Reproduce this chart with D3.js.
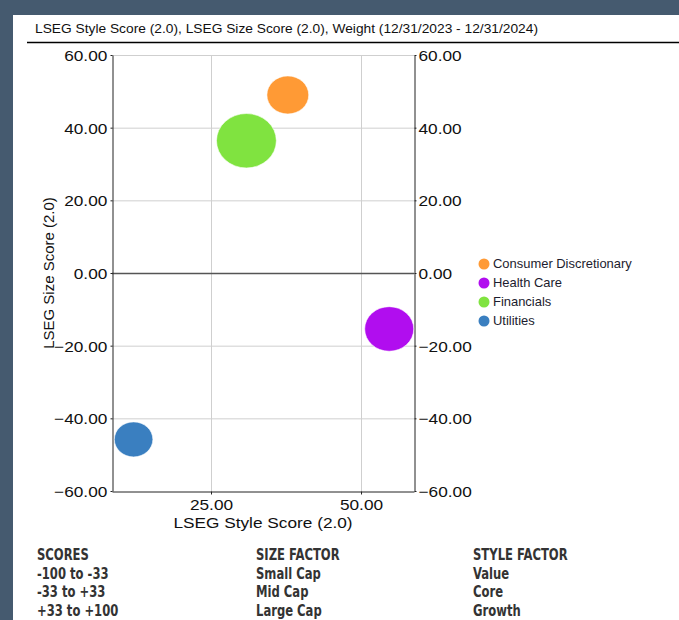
<!DOCTYPE html>
<head lang="en">
<meta charset="utf-8">
<title>LSEG Style Score vs Size Score</title>
<style>
body { margin:0; background:#455a6f; }
* { font-family:Arial,"Liberation Sans",sans-serif; }
</style>
<script src="https://cdnjs.cloudflare.com/ajax/libs/d3/7.8.5/d3.min.js"></script>
</head>
<body>
<script>
// Chart data
var sectors = ["Consumer Discretionary", "Health Care", "Financials", "Utilities"];
var styleScores = [37.8, 54.7, 30.9, 12.1];
var sizeScores = [49.0, -15.4, 36.4, -45.8];
var weights = [19.0, 26.1, 38.9, 16.1];
var sectorColors = ["#ff9a35", "#b10def", "#80e340", "#3a7fc0"];

var yTicks = [-60, -40, -20, 0, 20, 40, 60];
var xTicks = [25, 50];

var scoreHeaders = ["SCORES", "SIZE FACTOR", "STYLE FACTOR"];
var scoreRanges = ["-100 to -33", "-33 to +33", "+33 to +100"];
var sizeFactors = ["Small Cap", "Mid Cap", "Large Cap"];
var styleFactors = ["Value", "Core", "Growth"];

var width = 679,
	height = 620,
	stretch = 1.15;   // the original picture is a little wider than tall

var svg = d3.select("body").append("svg")
	.attr("width", width)
	.attr("height", height);

svg.append("rect")
	.attr("x", 0).attr("y", 0)
	.attr("width", width).attr("height", height)
	.style("fill", "#455a6f");
svg.append("rect")
	.attr("x", 13).attr("y", 15)
	.attr("width", width - 13).attr("height", height - 15)
	.style("fill", "white");

// Title and rule under it
svg.append("text")
	.attr("transform", "translate(35,33) scale(1.06,1)")
	.style("font-size", "13px")
	.style("fill", "#111")
	.text("LSEG Style Score (2.0), LSEG Size Score (2.0), Weight (12/31/2023 - 12/31/2024)");
svg.append("line")
	.attr("x1", 27).attr("x2", width)
	.attr("y1", 42.5).attr("y2", 42.5)
	.style("stroke", "black")
	.style("stroke-width", "1.5px");

// Scales
var plotLeft = 112, plotRight = 414, plotTop = 55, plotBottom = 491;
var x = d3.scaleLinear().domain([8.5, 58.83]).range([plotLeft, plotRight]);
var y = d3.scaleLinear().domain([-60, 60]).range([plotBottom, plotTop]);
var r = d3.scaleSqrt().domain([0, 40]).range([0, 27.6]);

// Grid lines
svg.append("g").selectAll("line")
	.data(yTicks.filter(function(d) { return d !== 0 && d !== -60; }))
	.enter().append("line")
		.attr("x1", plotLeft).attr("x2", plotRight)
		.attr("y1", function(d) { return y(d) + 0.5; })
		.attr("y2", function(d) { return y(d) + 0.5; })
		.style("stroke", "#cfcfcf");
svg.append("g").selectAll("line")
	.data(xTicks)
	.enter().append("line")
		.attr("x1", function(d) { return x(d) + 0.5; })
		.attr("x2", function(d) { return x(d) + 0.5; })
		.attr("y1", plotTop).attr("y2", plotBottom)
		.style("stroke", "#cfcfcf");
svg.append("line")
	.attr("x1", plotLeft).attr("x2", plotRight)
	.attr("y1", y(0) + 0.5).attr("y2", y(0) + 0.5)
	.style("stroke", "#555")
	.style("stroke-width", "1.3px");

// Axes
function styleAxis(g) {
	g.select(".domain").style("stroke", "#222");
	g.selectAll(".tick line").style("stroke", "#222");
	g.selectAll(".tick text")
		.style("font-size", "15px")
		.style("fill", "#111")
		.style("font-family", "Arial, 'Liberation Sans', sans-serif");
}

var leftAxis = svg.append("g")
	.attr("transform", "translate(" + (plotLeft + 0.5) + ",0)")
	.call(d3.axisLeft(y).tickValues(yTicks).tickFormat(d3.format(".2f")).tickSizeInner(2).tickSizeOuter(0).tickPadding(2.5))
	.call(styleAxis);
leftAxis.selectAll(".tick text").attr("transform", "scale(" + stretch + ",1)").attr("dy", "0.36em");

var rightAxis = svg.append("g")
	.attr("transform", "translate(" + (plotRight + 0.5) + ",0)")
	.call(d3.axisRight(y).tickValues(yTicks).tickFormat(d3.format(".2f")).tickSizeInner(2).tickSizeOuter(0).tickPadding(1.5))
	.call(styleAxis);
rightAxis.selectAll(".tick text").attr("transform", "scale(" + stretch + ",1)").attr("dy", "0.36em");

var bottomAxis = svg.append("g")
	.attr("transform", "translate(0," + (plotBottom + 0.5) + ")")
	.call(d3.axisBottom(x).tickValues(xTicks).tickFormat(d3.format(".2f")).tickSizeInner(3).tickSizeOuter(0).tickPadding(5))
	.call(styleAxis);
bottomAxis.selectAll(".tick text").attr("transform", "scale(" + stretch + ",1)");

// Axis titles
svg.append("text")
	.attr("transform", "translate(" + ((plotLeft + plotRight) / 2) + ",528) scale(" + stretch + ",1)")
	.attr("text-anchor", "middle")
	.style("font-size", "15px")
	.style("fill", "#111")
	.text("LSEG Style Score (2.0)");
svg.append("text")
	.attr("transform", "translate(54," + y(0) + ") rotate(-90)")
	.attr("text-anchor", "middle")
	.style("font-size", "15px")
	.style("fill", "#111")
	.text("LSEG Size Score (2.0)");

// Bubbles
svg.append("g").selectAll("ellipse")
	.data(sectors)
	.enter().append("ellipse")
		.attr("cx", function(d, i) { return x(styleScores[i]); })
		.attr("cy", function(d, i) { return y(sizeScores[i]); })
		.attr("rx", function(d, i) { return r(weights[i]) * 1.1; })
		.attr("ry", function(d, i) { return r(weights[i]); })
		.style("fill", function(d, i) { return sectorColors[i]; })
		.style("stroke", "white")
		.style("stroke-width", "0.6px");

// Legend
var legend = svg.append("g").selectAll("g")
	.data(sectors)
	.enter().append("g")
		.attr("transform", function(d, i) { return "translate(484," + (264 + i * 19) + ")"; });
legend.append("circle")
	.attr("r", 5.5)
	.style("fill", function(d, i) { return sectorColors[i]; });
legend.append("text")
	.attr("transform", "translate(9,4) scale(1.08,1)")
	.style("font-size", "12px")
	.style("fill", "#1c1c2e")
	.text(function(d) { return d; });

// Scores key at the bottom
var columns = [[scoreHeaders[0]].concat(scoreRanges),
			   [scoreHeaders[1]].concat(sizeFactors),
			   [scoreHeaders[2]].concat(styleFactors)];
var columnX = [37, 256, 473];
columns.forEach(function(col, c) {
	svg.append("g").selectAll("text")
		.data(col)
		.enter().append("text")
			.attr("transform", function(d, i) { return "translate(" + columnX[c] + "," + (560 + i * 18.7) + ") scale(0.86,1)"; })
			.style("font-family", "'DejaVu Sans Condensed','DejaVu Sans',sans-serif")
			.style("font-weight", "bold")
			.style("font-size", "15px")
			.style("fill", "#333")
			.text(function(d) { return d; });
});
</script>
</body>
</html>
